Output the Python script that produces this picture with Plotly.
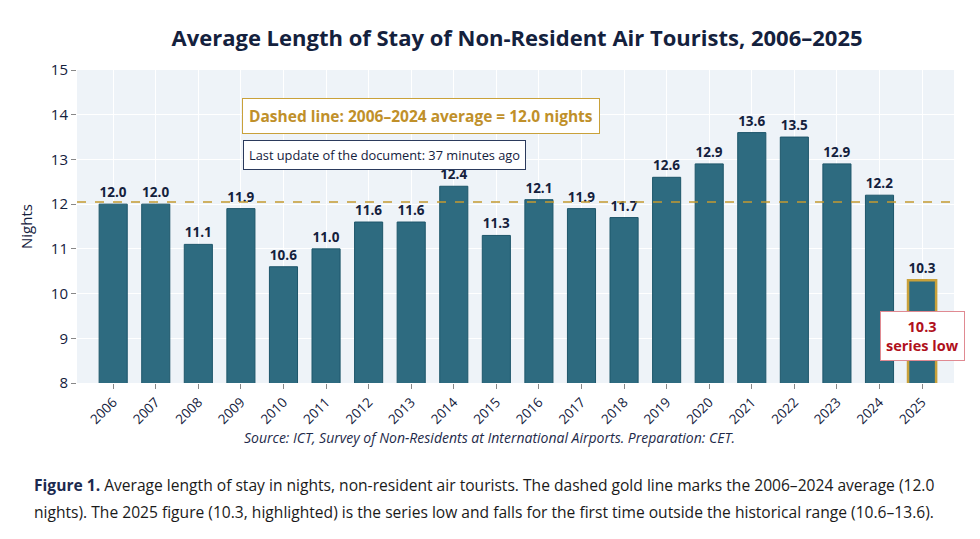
import plotly.graph_objects as go

years = [str(y) for y in range(2006, 2026)]
nights = [12.0, 12.0, 11.1, 11.9, 10.6, 11.0, 11.6, 11.6, 12.4, 11.3,
          12.1, 11.9, 11.7, 12.6, 12.9, 13.6, 13.5, 12.9, 12.2, 10.3]

avg = sum(nights[:-1]) / len(nights[:-1])

NAVY = "#14213d"
TEAL = "#2e6b80"
GOLD = "#c9a13a"
FONT = "Open Sans"

line_colors = ["#1d566a"] * (len(years) - 1) + [GOLD]
line_widths = [1] * (len(years) - 1) + [2.5]

fig = go.Figure(go.Bar(
    x=years, y=nights,
    marker=dict(color=TEAL, line=dict(color=line_colors, width=line_widths)),
    texttemplate="<b>%{y:.1f}</b>", textposition="outside",
    textfont=dict(size=13.5, color=NAVY, family=FONT),
    cliponaxis=False,
    hoverinfo="x+y",
))

# average line
fig.add_shape(type="line", xref="paper", x0=0, x1=1, y0=avg, y1=avg,
              line=dict(color="#c39a30", width=1.6, dash="dash"), layer="above")

fig.add_annotation(xref="paper", yref="paper", x=0.392, y=0.911,
                   text="<b>Dashed line: 2006–2024 average = %.1f nights</b>" % avg,
                   showarrow=False, font=dict(size=15.5, color="#c0902a", family=FONT),
                   bgcolor="white", bordercolor=GOLD, borderwidth=1, borderpad=6)
fig.add_annotation(xref="paper", yref="paper", x=0.351, y=0.776,
                   text="Last update of the document: 37 minutes ago",
                   showarrow=False, font=dict(size=12.8, color=NAVY, family=FONT),
                   bgcolor="white", bordercolor="#2b3a5c", borderwidth=1, borderpad=5)
# series low label on the last bar (category index)
fig.add_annotation(x=len(years) - 1, y=9.05,
                   text="<b>%.1f<br>series low</b>" % nights[-1],
                   showarrow=False, font=dict(size=14.5, color="#b0101c", family=FONT),
                   bgcolor="white", bordercolor="#e08a92", borderwidth=1, borderpad=5)

fig.add_annotation(xref="paper", yref="paper", x=0.470, y=-0.211,
                   text="<i>Source: ICT, Survey of Non-Residents at International Airports. Preparation: CET.</i>",
                   showarrow=False, font=dict(size=14, color="#1e2a4a", family=FONT))
fig.add_annotation(xref="paper", yref="paper", x=-0.0513, xanchor="left", y=-0.326, yanchor="middle",
                   text="<b><span style='color:#1c2a4f'>Figure 1.</span></b> Average length of stay in nights, "
                        "non-resident air tourists. The dashed gold line marks the 2006–2024 average (12.0",
                   showarrow=False, font=dict(size=15.6, color="#1a1a1a", family=FONT))
fig.add_annotation(xref="paper", yref="paper", x=-0.0513, xanchor="left", y=-0.412, yanchor="middle",
                   text="nights). The 2025 figure (10.3, highlighted) is the series low and falls for the "
                        "first time outside the historical range (10.6–13.6).",
                   showarrow=False, font=dict(size=15.6, color="#1a1a1a", family=FONT))

fig.update_layout(
    width=972, height=531,
    margin=dict(l=69, r=26, t=62, b=156),
    paper_bgcolor="white", plot_bgcolor="#eef3f8",
    font=dict(family=FONT, color=NAVY),
    title=dict(text="<b>Average Length of Stay of Non-Resident Air Tourists, 2006–2025</b>",
               x=0.5237, xanchor="center", y=0.9435, yanchor="middle",
               font=dict(size=22, color=NAVY, family=FONT)),
    bargap=0.34,
    showlegend=False,
    xaxis=dict(type="category", range=[-0.85, len(years) - 0.25], tickangle=-45,
               tickfont=dict(size=13.5, color=NAVY), showgrid=True,
               gridcolor="white", ticks="outside", ticklen=5, tickcolor="#888"),
    yaxis=dict(range=[8, 15], dtick=1, tickfont=dict(size=15, color=NAVY), gridcolor="white",
               ticks="outside", ticklen=5, tickcolor="#888", zeroline=False,
               title=dict(text="Nights", font=dict(size=15, color=NAVY), standoff=14)),
)

fig.write_html("out.html")
